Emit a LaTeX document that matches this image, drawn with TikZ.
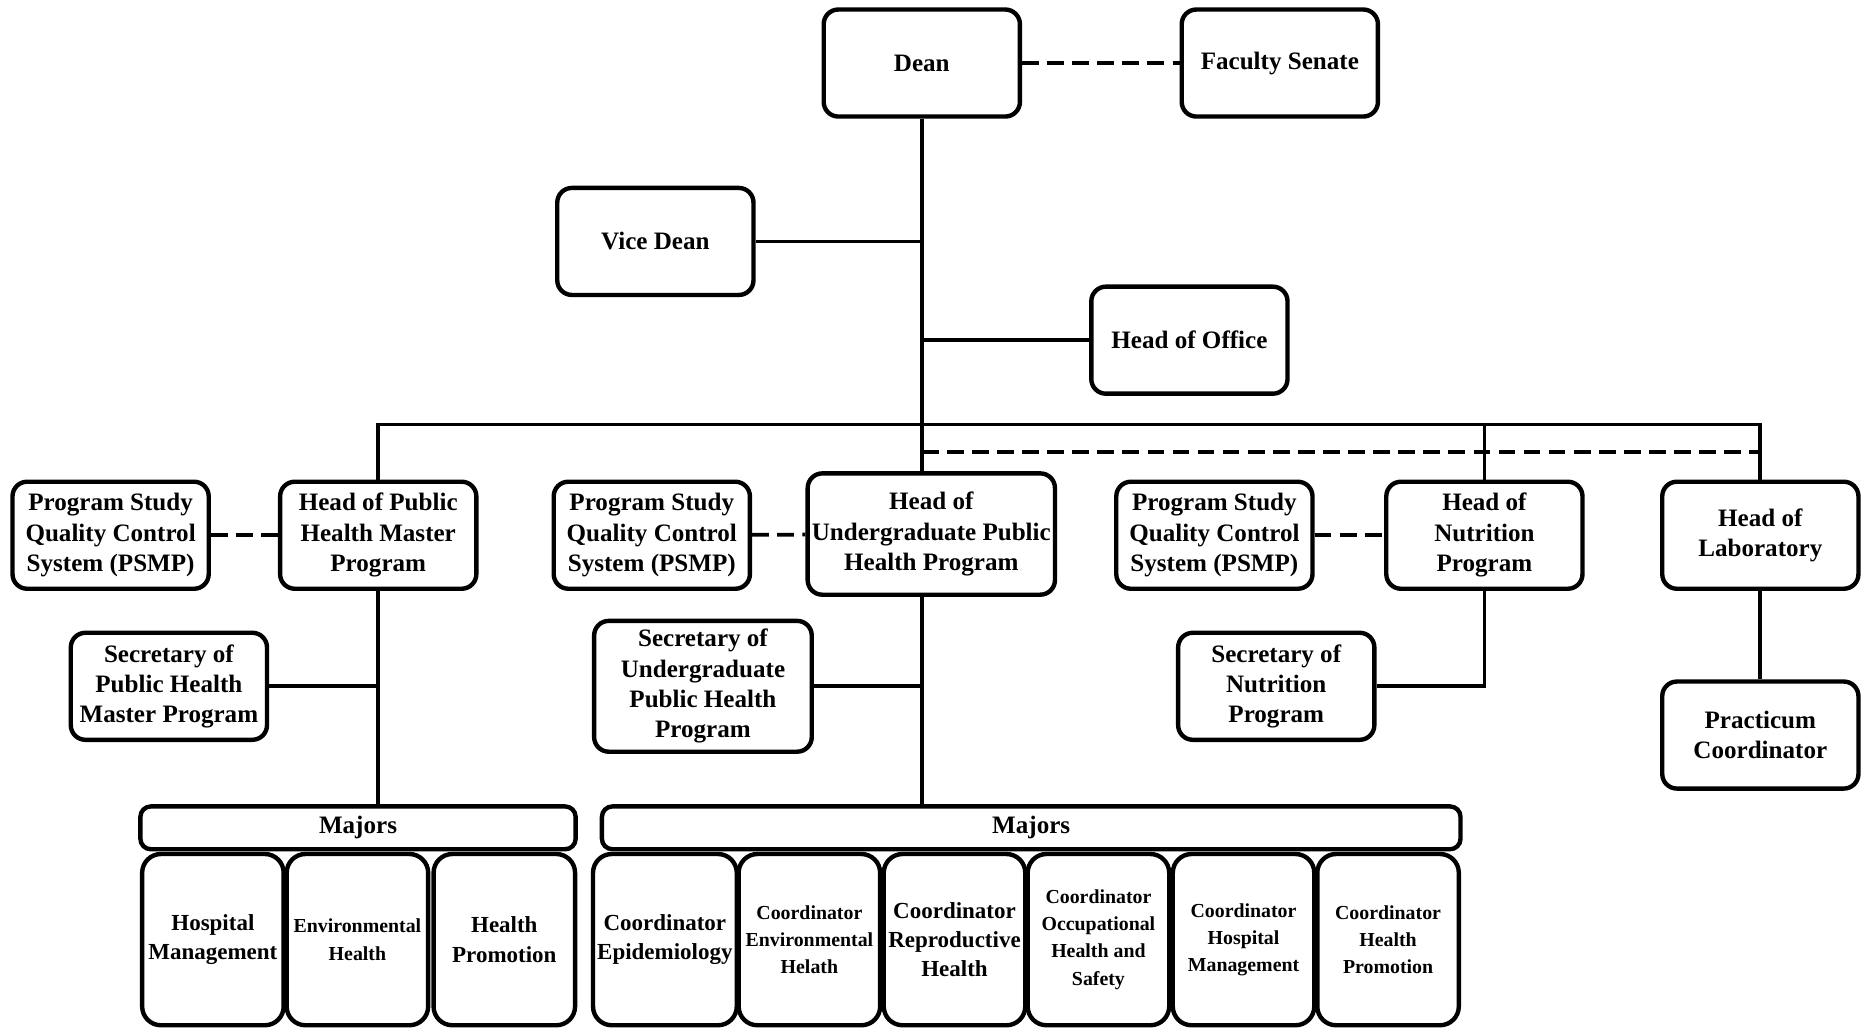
\documentclass[tikz,border=0pt]{standalone}
\usepackage{fontspec}
\setmainfont{Liberation Serif}
\usepackage{tikz}
\usetikzlibrary{positioning}

\begin{document}
\begin{tikzpicture}[x=0.02cm, y=-0.02cm, line width=1.8pt,
	  box/.style = {shape=rectangle, rounded corners=7pt, draw, line width=2.1pt,
	    align=center, inner sep=2pt, minimum width=3.3cm, minimum height=1.8cm,
	    font=\bfseries\fontsize{12}{14.5}\selectfont},
	  majorbar/.style = {box, minimum height=0.72cm, rounded corners=5pt},
	  unitbox/.style = {box, minimum width=2.38cm, minimum height=2.88cm,
	    rounded corners=9pt, font=\bfseries\fontsize{11}{14}\selectfont},
	  smallunit/.style = {unitbox, font=\bfseries\fontsize{9.5}{13}\selectfont},
	  dashline/.style = {dash pattern=on 8pt off 4pt}]
	  \useasboundingbox (0,0) rectangle (1568,864);
	  % top of the chart
	  \node[box] (dean) at (775,53) {Dean};
	  \node[box] (senate) at (1076,53) {Faculty Senate};
	  \node[box] (vice) at (551,203) {Vice Dean};
	  \node[box] (office) at (1000,286) {Head of Office};
	  % heads of programs
	  \node[box] (qcmaster) at (93,450) {Program Study\\Quality Control\\System (PSMP)};
	  \node[box] (headmaster) at (318,450) {Head of Public\\Health Master\\Program};
	  \node[box] (qcunder) at (548,450) {Program Study\\Quality Control\\System (PSMP)};
	  \node[box, minimum width=4.1cm, minimum height=2.04cm] (headunder) at (783,449) {Head of\\Undergraduate Public\\Health Program};
	  \node[box] (qcnutri) at (1021,450) {Program Study\\Quality Control\\System (PSMP)};
	  \node[box] (headnutri) at (1248,450) {Head of\\Nutrition\\Program};
	  \node[box] (headlab) at (1480,450) {Head of\\Laboratory};
	  % secretaries
	  \node[box] (secmaster) at (142,577) {Secretary of\\Public Health\\Master Program};
	  \node[box, minimum width=3.66cm, minimum height=2.2cm] (secunder) at (591,577) {Secretary of\\Undergraduate\\Public Health\\Program};
	  \node[box] (secnutri) at (1073,577) {Secretary of\\Nutrition\\Program};
	  \node[box] (practicum) at (1480,618) {Practicum\\Coordinator};
	  % majors
	  \node[majorbar, minimum width=7.32cm] (majmaster) at (301,696) {Majors};
	  \node[majorbar, minimum width=14.44cm] (majunder) at (867,696) {Majors};
	  \node[unitbox] (hosp) at (179,790) {Hospital\\Management};
	  \node[smallunit] (envi) at (300.5,790) {Environmental\\Health};
	  \node[unitbox] (promo) at (424,790) {Health\\Promotion};
	  \node[unitbox] (cepi) at (559,790) {Coordinator\\Epidemiology};
	  \node[smallunit] (cenvi) at (680.5,790) {Coordinator\\Environmental\\Helath};
	  \node[unitbox] (crepro) at (802.5,790) {Coordinator\\Reproductive\\Health};
	  \node[smallunit] (coccu) at (923.5,790) {Coordinator\\Occupational\\Health and\\Safety};
	  \node[smallunit] (chosp) at (1045.5,790) {Coordinator\\Hospital\\Management};
	  \node[smallunit] (cpromo) at (1167,790) {Coordinator\\Health\\Promotion};
	  % connectors
	  \coordinate (bus) at (775,357);
	  \coordinate (dashbus) at (775,380);
	  \draw[dashline] (dean) -- (senate);
	  \draw (dean.south) -- (dean.south |- headunder.north);
	  \draw (vice) -- (vice -| dean.south);
	  \draw (office) -- (office -| dean.south);
	  \draw (headmaster.north) -- (headmaster.north |- bus) -- (headlab.north |- bus) -- (headlab.north);
	  \draw (headnutri.north) -- (headnutri.north |- bus);
	  \draw[dashline] (dashbus) -- (headlab.north |- dashbus);
	  \draw[dashline] (qcmaster) -- (headmaster);
	  \draw[dashline] (qcunder) -- (headunder);
	  \draw[dashline] (qcnutri) -- (headnutri);
	  \draw (headmaster.south) -- (headmaster.south |- majmaster.north);
	  \draw (secmaster) -- (secmaster -| headmaster.south);
	  \draw (dean.south |- headunder.south) -- (dean.south |- majunder.north);
	  \draw (secunder) -- (secunder -| dean.south);
	  \draw (secnutri) -| (headnutri.south);
	  \draw (headlab) -- (practicum);
	\end{tikzpicture}
\end{document}
